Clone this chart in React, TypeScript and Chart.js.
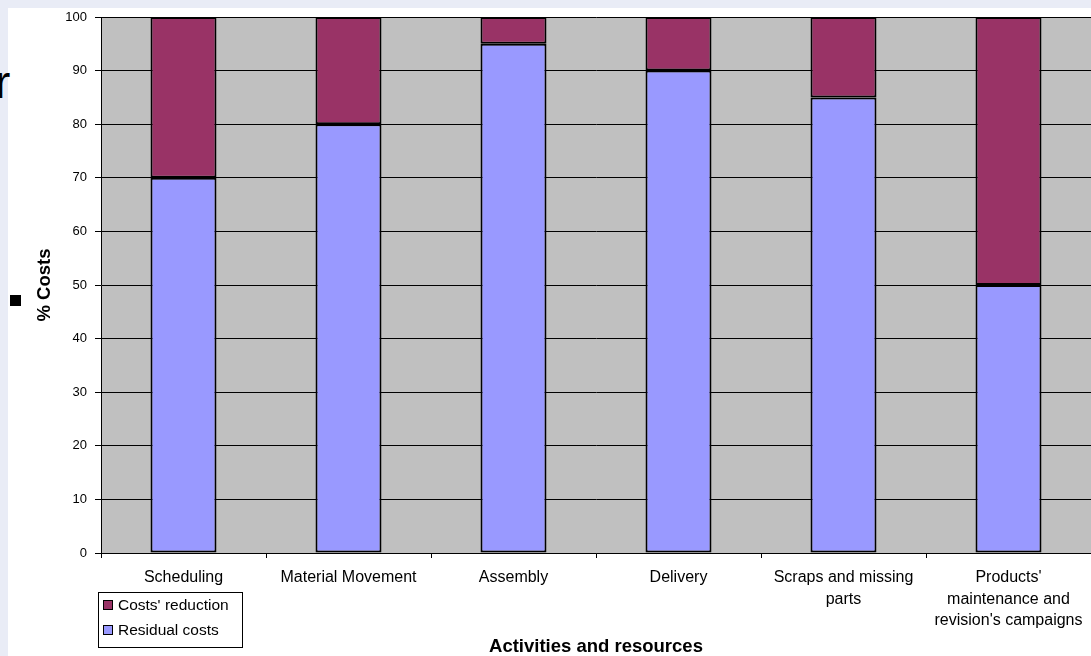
import React, { useEffect, useRef } from 'react';
import { Chart, registerables } from 'chart.js';

Chart.register(...registerables);

const categories: string[][] = [
  ['Scheduling'],
  ['Material Movement'],
  ['Assembly'],
  ['Delivery'],
  ['Scraps and missing', 'parts'],
  ["Products'", 'maintenance and', "revision's campaigns"],
];
const residualCosts = [70, 80, 95, 90, 85, 50];
const costsReduction = [30, 20, 5, 10, 15, 50];
const seriesNames = ['Residual costs', "Costs' reduction"];
const seriesColors = ['#9999FF', '#993366'];
const xTitle = 'Activities and resources';
const yTitle = '% Costs';
const yMin = 0;
const yMax = 100;
const yStep = 10;

const plotBgPlugin = {
  id: 'plotBg',
  beforeDraw(chart: any) {
    const { ctx, chartArea } = chart;
    ctx.save();
    ctx.fillStyle = '#C0C0C0';
    ctx.fillRect(chartArea.left, chartArea.top, chartArea.right - chartArea.left, chartArea.bottom - chartArea.top);
    ctx.restore();
  },
};

const boxLegendPlugin = {
  id: 'boxLegend',
  afterDraw(chart: any) {
    const { ctx, chartArea } = chart;
    const left = chartArea.left - 3;
    const top = chartArea.bottom + 39;
    ctx.save();
    ctx.strokeStyle = '#000';
    ctx.lineWidth = 1;
    ctx.fillStyle = '#FFFFFF';
    ctx.fillRect(left, top, 144, 55);
    ctx.strokeRect(left + 0.5, top + 0.5, 144, 55);
    const items = chart.data.datasets
      .map((d: any) => ({ label: d.label, color: d.backgroundColor }))
      .reverse();
    ctx.font = '15.5px "Liberation Sans", Arial, sans-serif';
    ctx.textBaseline = 'middle';
    ctx.textAlign = 'left';
    items.forEach((it: any, i: number) => {
      const cy = top + 13 + i * 25;
      ctx.fillStyle = it.color;
      ctx.fillRect(left + 5, cy - 5, 10, 10);
      ctx.strokeStyle = '#000';
      ctx.strokeRect(left + 5.5, cy - 4.5, 9, 9);
      ctx.fillStyle = '#000';
      ctx.fillText(it.label, left + 20, cy + 1);
    });
    ctx.restore();
  },
};

export default function App() {
  const canvasRef = useRef<HTMLCanvasElement | null>(null);

  useEffect(() => {
    if (!canvasRef.current) return;
    const chart = new Chart(canvasRef.current, {
      type: 'bar',
      data: {
        labels: categories,
        datasets: [
          {
            label: seriesNames[0],
            data: residualCosts,
            backgroundColor: seriesColors[0],
            borderColor: '#000000',
            borderWidth: 2,
            borderSkipped: false,
          },
          {
            label: seriesNames[1],
            data: costsReduction,
            backgroundColor: seriesColors[1],
            borderColor: '#000000',
            borderWidth: 2,
            borderSkipped: false,
          },
        ],
      },
      options: {
        responsive: false,
        animation: false,
        devicePixelRatio: 1,
        layout: { padding: { left: 0, right: 0, top: 17, bottom: 0 } },
        datasets: {
          bar: { barPercentage: 0.4, categoryPercentage: 1 },
        },
        plugins: {
          legend: { display: false },
          tooltip: { enabled: false },
          title: { display: false },
        },
        scales: {
          x: {
            stacked: true,
            offset: true,
            grid: {
              display: true,
              offset: true,
              drawOnChartArea: false,
              drawTicks: true,
              tickLength: 5,
              color: '#000000',
              lineWidth: 1,
            },
            border: { display: true, color: '#000000', width: 1 },
            ticks: {
              color: '#000000',
              padding: 9,
              maxRotation: 0,
              minRotation: 0,
              autoSkip: false,
              font: { family: '"Liberation Sans", Arial, sans-serif', size: 16, lineHeight: 1.35 },
            },
            title: {
              display: true,
              text: xTitle,
              color: '#000000',
              padding: { top: 0, bottom: 0 },
              font: { family: '"Liberation Sans", Arial, sans-serif', size: 18.5, weight: 'bold', lineHeight: 1 },
            },
            afterFit(scale: any) {
              scale.height = 103;
              scale.paddingLeft = 0;
              scale.paddingRight = 0;
            },
          },
          y: {
            stacked: true,
            min: yMin,
            max: yMax,
            grid: {
              color: '#000000',
              lineWidth: 1,
              drawTicks: true,
              tickLength: 6,
            },
            border: { display: true, color: '#000000', width: 1 },
            ticks: {
              stepSize: yStep,
              color: '#000000',
              padding: 8,
              font: { family: '"Liberation Sans", Arial, sans-serif', size: 13 },
            },
            title: {
              display: true,
              text: yTitle,
              color: '#000000',
              padding: { top: 36, bottom: 0 },
              font: { family: '"Liberation Sans", Arial, sans-serif', size: 18.5, weight: 'bold', lineHeight: 1 },
            },
            afterFit(scale: any) {
              scale.width = 101;
              scale.paddingTop = 0;
              scale.paddingBottom = 0;
            },
          },
        },
      },
      plugins: [plotBgPlugin, boxLegendPlugin],
    });
    return () => chart.destroy();
  }, []);

  return (
    <div style={{ position: 'fixed', left: 0, top: 0, width: 1091, height: 656, background: '#FFFFFF', overflow: 'hidden' }}>
      <div style={{ position: 'absolute', left: 0, top: 0, width: 1091, height: 8, background: '#E9ECF6' }} />
      <div style={{ position: 'absolute', left: 0, top: 0, width: 8, height: 656, background: '#E9ECF6' }} />
      <span
        style={{
          position: 'absolute',
          left: -5,
          top: 59,
          fontFamily: '"Liberation Sans", Arial, sans-serif',
          fontSize: 46,
          lineHeight: '46px',
          color: '#000',
        }}
      >
        r
      </span>
      <div style={{ position: 'absolute', left: 10, top: 295, width: 11, height: 11, background: '#000' }} />
      <canvas ref={canvasRef} width={1091} height={656} style={{ position: 'absolute', left: 0, top: 0 }} />
    </div>
  );
}
